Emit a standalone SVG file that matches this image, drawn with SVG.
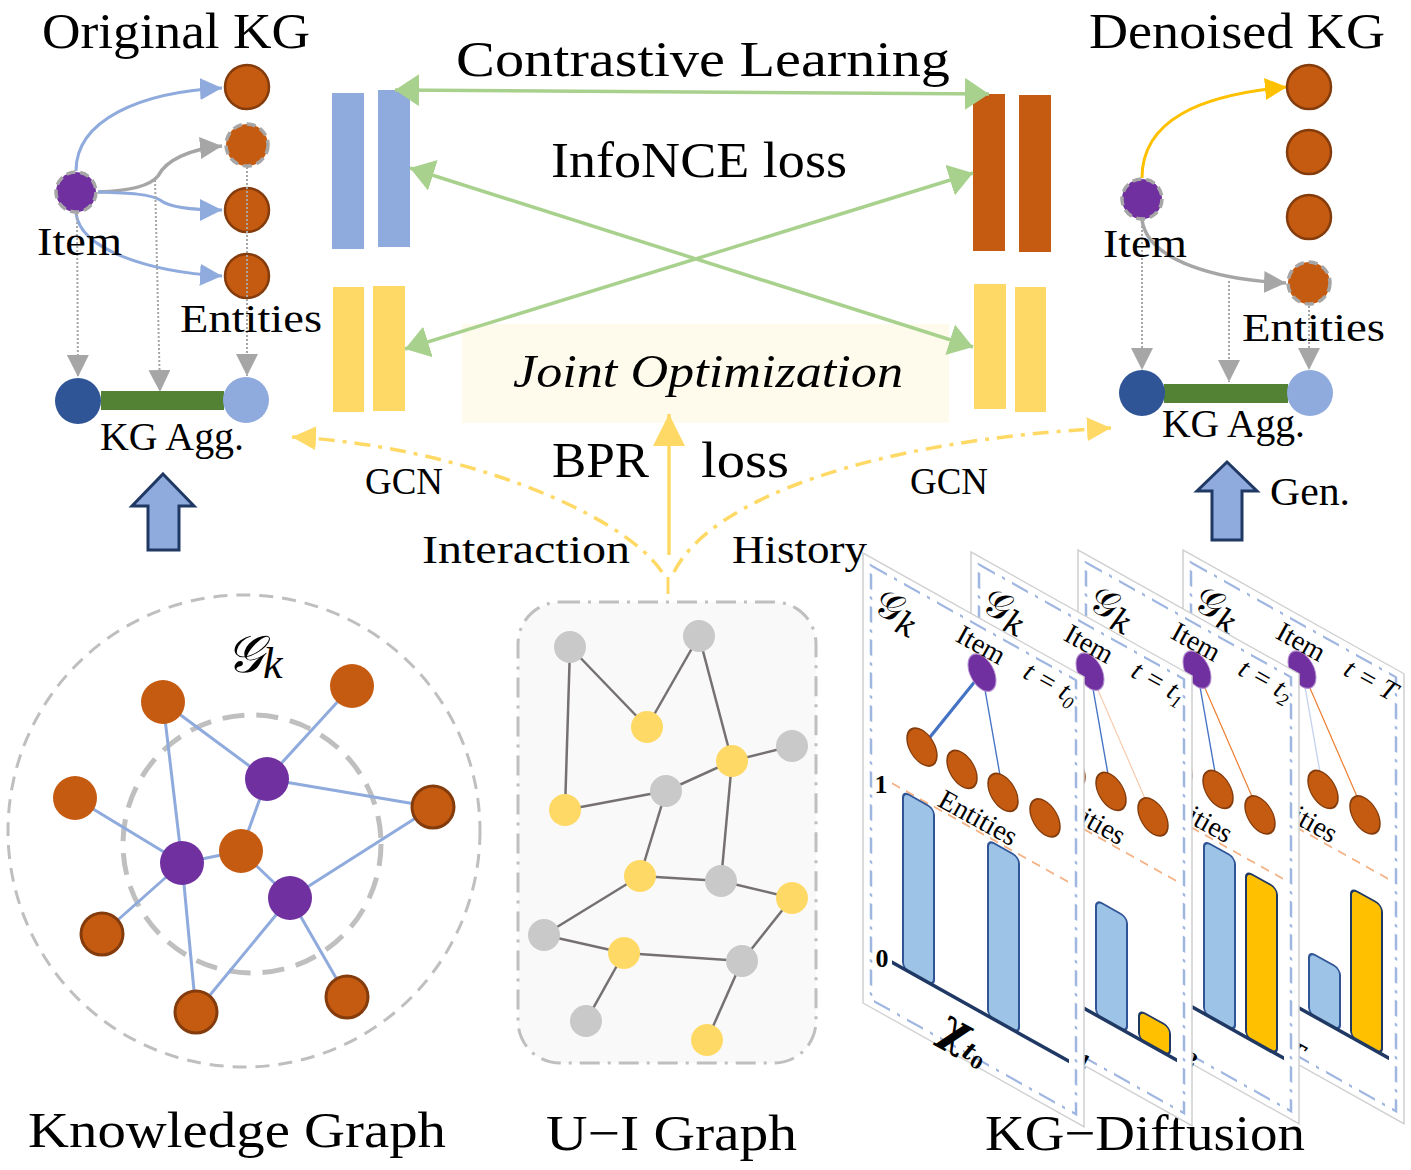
<svg xmlns="http://www.w3.org/2000/svg" width="1411" height="1170" viewBox="0 0 1411 1170">
<defs>
<style>
text { font-family: "Liberation Serif","DejaVu Serif",serif; fill:#000; }
.ent { fill:#c55a11; stroke:#843c0c; stroke-width:2.5; }
.entd { fill:#c55a11; stroke:#a6a6a6; stroke-width:3.5; stroke-dasharray:9 5; }
.itemd { fill:#7030a0; stroke:#a6a6a6; stroke-width:3.5; stroke-dasharray:9 5; }
.kgent { fill:#c55a11; }
.kgent2 { fill:#c55a11; stroke:#843c0c; stroke-width:3; }
.kgitem { fill:#7030a0; }
.kge { stroke:#8faadc; stroke-width:3; fill:none; }
.uie { stroke:#767171; stroke-width:2.5; fill:none; }
.ug { fill:#c9c9c9; }
.uy { fill:#ffd966; }
.dot { stroke:#a6a6a6; stroke-width:2; stroke-dasharray:2 2; fill:none; }
.green { stroke:#a9d18e; stroke-width:3.5; fill:none; }
.ydd { stroke:#ffd966; stroke-width:3.5; fill:none; stroke-dasharray:16 8 4 8; }
.bcurve { stroke:#8faadc; stroke-width:3; fill:none; }
.gcurve { stroke:#a6a6a6; stroke-width:3.5; fill:none; }
.pbg { fill:#fff; stroke:#cfcfcf; stroke-width:1.5; }
.pin { fill:none; stroke:#9fb6e0; stroke-width:2.5; stroke-dasharray:16 7 3 7; }
.pent { fill:#c55a11; stroke:#843c0c; stroke-width:1.5; }
.pitem { fill:#7030a0; stroke:#b48fd0; stroke-width:1; }
.pbar { fill:#9dc3e6; stroke:#2f5597; stroke-width:2; }
.pybar { fill:#ffc000; stroke:#203864; stroke-width:2; }
.paxis { stroke:#203864; stroke-width:4; }
.pdash { stroke:#f4b183; stroke-width:2; stroke-dasharray:8 6; }
.ptext { font-size:28px; }
.pgk { font-size:38px; font-family:"DejaVu Serif",serif; }
.pchi { font-size:46px; font-weight:bold; font-family:"DejaVu Serif",serif; }
.bigarrow { fill:#8faadc; stroke:#203864; stroke-width:3; }
</style>
<marker id="aBlue" markerUnits="userSpaceOnUse" viewBox="0 0 22 22" markerWidth="22" markerHeight="22" refX="22" refY="11" orient="auto"><path d="M0,0 L22,11 L0,22 z" fill="#8faadc"/></marker>
<marker id="aGray" markerUnits="userSpaceOnUse" viewBox="0 0 22 22" markerWidth="22" markerHeight="22" refX="22" refY="11" orient="auto"><path d="M0,0 L22,11 L0,22 z" fill="#a6a6a6"/></marker>
<marker id="aGold" markerUnits="userSpaceOnUse" viewBox="0 0 22 22" markerWidth="22" markerHeight="22" refX="22" refY="11" orient="auto"><path d="M0,0 L22,11 L0,22 z" fill="#ffc000"/></marker>
<marker id="aGreen" markerUnits="userSpaceOnUse" viewBox="0 0 24 32" markerWidth="24" markerHeight="32" refX="24" refY="16" orient="auto-start-reverse"><path d="M0,0 L24,16 L0,32 z" fill="#a9d18e"/></marker>
<marker id="aYel" markerUnits="userSpaceOnUse" viewBox="0 0 24 24" markerWidth="24" markerHeight="24" refX="24" refY="12" orient="auto"><path d="M0,0 L24,12 L0,24 z" fill="#ffd966"/></marker>
<marker id="aYelBig" markerUnits="userSpaceOnUse" viewBox="0 0 32 32" markerWidth="32" markerHeight="32" refX="32" refY="16" orient="auto"><path d="M0,0 L32,16 L0,32 z" fill="#ffd966"/></marker>
</defs>

<rect width="1411" height="1170" fill="#fff"/>

<!-- Joint optimization background -->
<g id="joint-opt">
<rect x="462" y="324" width="487" height="99" fill="#fefbec"/>
<text x="513" y="387" font-size="46" font-style="italic" textLength="390" lengthAdjust="spacingAndGlyphs">Joint Optimization</text>
</g>

<!-- Titles / labels -->
<g id="labels">
<text x="42" y="48" font-size="50" textLength="268" lengthAdjust="spacingAndGlyphs">Original KG</text>
<text x="456" y="76" font-size="50" textLength="494" lengthAdjust="spacingAndGlyphs">Contrastive Learning</text>
<text x="551" y="177" font-size="50" textLength="296" lengthAdjust="spacingAndGlyphs">InfoNCE loss</text>
<text x="1089" y="48" font-size="50" textLength="296" lengthAdjust="spacingAndGlyphs">Denoised KG</text>
<text x="365" y="494" font-size="38" textLength="78" lengthAdjust="spacingAndGlyphs">GCN</text>
<text x="910" y="494" font-size="38" textLength="78" lengthAdjust="spacingAndGlyphs">GCN</text>
<text x="552" y="477" font-size="50" textLength="97" lengthAdjust="spacingAndGlyphs">BPR</text>
<text x="701" y="477" font-size="50" textLength="88" lengthAdjust="spacingAndGlyphs">loss</text>
<text x="422" y="563" font-size="40" textLength="208" lengthAdjust="spacingAndGlyphs">Interaction</text>
<text x="732" y="563" font-size="40" textLength="135" lengthAdjust="spacingAndGlyphs">History</text>
<text x="28" y="1147" font-size="50" textLength="418" lengthAdjust="spacingAndGlyphs">Knowledge Graph</text>
<text x="546" y="1150" font-size="50" textLength="251" lengthAdjust="spacingAndGlyphs">U−I Graph</text>
<text x="985" y="1150" font-size="50" textLength="320" lengthAdjust="spacingAndGlyphs">KG−Diffusion</text>
</g>

<!-- Original KG -->
<g id="original-kg">
<path class="bcurve" d="M76,171 C76,120 140,92 222,88" marker-end="url(#aBlue)"/>
<path class="gcurve" d="M98,192 C130,191 150,186 158,176 C166,160 190,149 222,146" marker-end="url(#aGray)"/>
<path class="bcurve" d="M98,192 C130,193 150,194 160,200 C170,208 195,210 222,210" marker-end="url(#aBlue)"/>
<path class="bcurve" d="M76,213 C80,250 150,272 222,276" marker-end="url(#aBlue)"/>
<circle class="ent" cx="247" cy="87" r="22"/>
<circle class="entd" cx="247" cy="145" r="21"/>
<circle class="ent" cx="247" cy="210" r="22"/>
<circle class="ent" cx="247" cy="276" r="22"/>
<circle class="itemd" cx="76" cy="192" r="20"/>
<path class="dot" d="M77,214 L78,377" marker-end="url(#aGray)"/>
<path class="dot" d="M155,180 L160,392" marker-end="url(#aGray)"/>
<path class="dot" d="M247,167 L247,376" marker-end="url(#aGray)"/>
<rect x="101" y="391" width="123" height="19" fill="#548235"/>
<circle cx="78" cy="401" r="23" fill="#2f5597"/>
<circle cx="246" cy="400" r="23" fill="#8faadc"/>
<text x="37" y="255" font-size="40" textLength="85" lengthAdjust="spacingAndGlyphs">Item</text>
<text x="180" y="332" font-size="40" textLength="142" lengthAdjust="spacingAndGlyphs">Entities</text>
<text x="100" y="450" font-size="40" textLength="144" lengthAdjust="spacingAndGlyphs">KG Agg.</text>
<path class="bigarrow" d="M163,474 L194,506 L179,506 L179,550 L148,550 L148,506 L132,506 z"/>
</g>

<!-- Denoised KG -->
<g id="denoised-kg">
<path d="M1142,178 C1142,120 1200,95 1287,87" stroke="#ffc000" stroke-width="3" fill="none" marker-end="url(#aGold)"/>
<path class="gcurve" d="M1142,220 C1148,262 1220,280 1286,283" marker-end="url(#aGray)"/>
<circle class="ent" cx="1309" cy="87" r="22"/>
<circle class="ent" cx="1309" cy="152" r="22"/>
<circle class="ent" cx="1309" cy="217" r="22"/>
<circle class="entd" cx="1309" cy="283" r="21"/>
<circle class="itemd" cx="1142" cy="199" r="20"/>
<path class="dot" d="M1142,222 L1142,370" marker-end="url(#aGray)"/>
<path class="dot" d="M1229,281 L1229,382" marker-end="url(#aGray)"/>
<path class="dot" d="M1309,306 L1309,370" marker-end="url(#aGray)"/>
<rect x="1164" y="384" width="124" height="19" fill="#548235"/>
<circle cx="1142" cy="393" r="23" fill="#2f5597"/>
<circle cx="1310" cy="393" r="23" fill="#8faadc"/>
<text x="1103" y="257" font-size="40" textLength="84" lengthAdjust="spacingAndGlyphs">Item</text>
<text x="1242" y="341" font-size="40" textLength="143" lengthAdjust="spacingAndGlyphs">Entities</text>
<text x="1162" y="437" font-size="40" textLength="143" lengthAdjust="spacingAndGlyphs">KG Agg.</text>
<path class="bigarrow" d="M1227,462 L1257,491 L1242,491 L1242,540 L1212,540 L1212,491 L1197,491 z"/>
<text x="1270" y="505" font-size="40" textLength="80" lengthAdjust="spacingAndGlyphs">Gen.</text>
</g>

<!-- Embedding bars -->
<g id="emb-blue">
<rect x="332" y="93" width="32" height="156" fill="#8faadc"/>
<rect x="378" y="90" width="32" height="157" fill="#8faadc"/>
</g>
<g id="emb-yellow-left">
<rect x="333" y="287" width="31" height="125" fill="#ffd966"/>
<rect x="373" y="286" width="32" height="125" fill="#ffd966"/>
</g>
<g id="emb-orange">
<rect x="973" y="94" width="32" height="157" fill="#c55a11"/>
<rect x="1019" y="95" width="32" height="157" fill="#c55a11"/>
</g>
<g id="emb-yellow-right">
<rect x="974" y="284" width="32" height="125" fill="#ffd966"/>
<rect x="1015" y="287" width="31" height="125" fill="#ffd966"/>
</g>

<!-- Connectors -->
<g id="connectors">
<path class="green" d="M395,90 L989,94" marker-start="url(#aGreen)" marker-end="url(#aGreen)"/>
<path class="green" d="M410,168 L973,347" marker-start="url(#aGreen)" marker-end="url(#aGreen)"/>
<path class="green" d="M405,349 L973,173" marker-start="url(#aGreen)" marker-end="url(#aGreen)"/>
<path class="ydd" d="M662,572 C620,510 450,445 292,437" marker-end="url(#aYel)"/>
<path class="ydd" d="M674,572 C710,500 870,440 1111,428" marker-end="url(#aYel)"/>
<path d="M668,577 L668,594" stroke="#ffd966" stroke-width="3" fill="none"/>
<path d="M669,555 L669,414" stroke="#ffd966" stroke-width="3.5" fill="none" marker-end="url(#aYelBig)"/>
</g>

<!-- Knowledge graph -->
<g id="knowledge-graph">
<circle cx="244" cy="831" r="236" fill="none" stroke="#bfbfbf" stroke-width="3" stroke-dasharray="14 9"/>
<circle cx="252" cy="844" r="129" fill="none" stroke="#bfbfbf" stroke-width="5" stroke-dasharray="22 12"/>
<text x="226" y="672" font-size="52" font-family="DejaVu Serif, serif" font-style="italic">𝒢<tspan font-size="44" dy="6" font-family="Liberation Serif, serif">k</tspan></text>
<g class="kge">
<line x1="163" y1="702" x2="267" y2="779"/>
<line x1="352" y1="686" x2="267" y2="779"/>
<line x1="267" y1="779" x2="433" y2="807"/>
<line x1="267" y1="779" x2="241" y2="851"/>
<line x1="163" y1="702" x2="182" y2="863"/>
<line x1="75" y1="798" x2="182" y2="863"/>
<line x1="182" y1="863" x2="241" y2="851"/>
<line x1="182" y1="863" x2="102" y2="934"/>
<line x1="182" y1="863" x2="196" y2="1012"/>
<line x1="241" y1="851" x2="290" y2="898"/>
<line x1="290" y1="898" x2="433" y2="807"/>
<line x1="290" y1="898" x2="196" y2="1012"/>
<line x1="290" y1="898" x2="347" y2="997"/>
</g>
<circle class="kgent" cx="163" cy="702" r="22"/>
<circle class="kgent" cx="352" cy="686" r="22"/>
<circle class="kgent" cx="75" cy="798" r="22"/>
<circle class="kgent" cx="241" cy="851" r="22"/>
<circle class="kgent2" cx="433" cy="807" r="21"/>
<circle class="kgent2" cx="102" cy="934" r="21"/>
<circle class="kgent2" cx="196" cy="1012" r="21"/>
<circle class="kgent2" cx="347" cy="997" r="21"/>
<circle class="kgitem" cx="267" cy="779" r="22"/>
<circle class="kgitem" cx="182" cy="863" r="22"/>
<circle class="kgitem" cx="290" cy="898" r="22"/>
</g>

<!-- U-I graph -->
<g id="ui-graph">
<rect x="518" y="602" width="298" height="461" rx="42" fill="#f9f9f9" stroke="#bfbfbf" stroke-width="3" stroke-dasharray="20 8 3 8"/>
<g class="uie">
<line x1="570" y1="647" x2="647" y2="727"/>
<line x1="647" y1="727" x2="699" y2="636"/>
<line x1="699" y1="636" x2="732" y2="761"/>
<line x1="570" y1="647" x2="565" y2="810"/>
<line x1="565" y1="810" x2="666" y2="791"/>
<line x1="666" y1="791" x2="732" y2="761"/>
<line x1="732" y1="761" x2="792" y2="746"/>
<line x1="732" y1="761" x2="721" y2="881"/>
<line x1="666" y1="791" x2="640" y2="876"/>
<line x1="640" y1="876" x2="721" y2="881"/>
<line x1="721" y1="881" x2="792" y2="898"/>
<line x1="640" y1="876" x2="544" y2="935"/>
<line x1="544" y1="935" x2="624" y2="953"/>
<line x1="624" y1="953" x2="742" y2="961"/>
<line x1="742" y1="961" x2="792" y2="898"/>
<line x1="624" y1="953" x2="586" y2="1021"/>
<line x1="742" y1="961" x2="707" y2="1040"/>
</g>
<circle class="ug" cx="570" cy="647" r="16"/>
<circle class="ug" cx="699" cy="636" r="16"/>
<circle class="ug" cx="792" cy="746" r="16"/>
<circle class="ug" cx="666" cy="791" r="16"/>
<circle class="ug" cx="721" cy="881" r="16"/>
<circle class="ug" cx="544" cy="935" r="16"/>
<circle class="ug" cx="742" cy="961" r="16"/>
<circle class="ug" cx="586" cy="1021" r="16"/>
<circle class="uy" cx="647" cy="727" r="16"/>
<circle class="uy" cx="732" cy="761" r="16"/>
<circle class="uy" cx="565" cy="810" r="16"/>
<circle class="uy" cx="640" cy="876" r="16"/>
<circle class="uy" cx="792" cy="898" r="16"/>
<circle class="uy" cx="624" cy="953" r="16"/>
<circle class="uy" cx="707" cy="1040" r="16"/>
</g>

<!-- KG diffusion panels (back to front) -->
<g id="panel-T" transform="translate(320,-3)">
<g transform="matrix(1,0.56,0,1,863,553)">
<rect class="pbg" x="0" y="0" width="221" height="450"/>
<rect class="pin" x="8" y="8" width="205" height="434"/>
<line x1="119" y1="53" x2="140" y2="161" stroke="#c5d3ee" stroke-width="1.5"/>
<line x1="119" y1="53" x2="182" y2="163" stroke="#ed7d31" stroke-width="1.5"/>
<ellipse class="pitem" cx="119" cy="53" rx="14" ry="17"/>
<ellipse class="pent" cx="59" cy="161" rx="15" ry="17"/>
<ellipse class="pent" cx="99" cy="161" rx="15" ry="17"/>
<ellipse class="pent" cx="140" cy="161" rx="15" ry="17"/>
<ellipse class="pent" cx="182" cy="163" rx="15" ry="17"/>
<line class="pdash" x1="29" y1="214" x2="206" y2="214"/>
<rect class="pbar" x="126" y="331" width="31" height="62" rx="6"/>
<rect class="pybar" x="168" y="244" width="31" height="149" rx="6"/>
<line class="paxis" x1="29" y1="393" x2="206" y2="393"/>
</g>
<text class="pgk" transform="translate(872,612) rotate(25)">𝒢<tspan font-style="italic" font-size="32" dy="8">k</tspan></text>
<text class="ptext" transform="translate(981,645) rotate(29)" text-anchor="middle" y="9">Item</text>
<text class="ptext" transform="translate(1051,683) rotate(29)" text-anchor="middle" y="9" font-style="italic">t = T</text>
<text class="ptext" transform="translate(978,818) rotate(29)" text-anchor="middle" y="9">Entities</text>
<text class="pchi" transform="translate(965,1040) rotate(29)" text-anchor="middle" y="10">χ<tspan font-size="24" dy="6" font-style="italic">T</tspan></text>
</g>

<g id="panel-t2" transform="translate(215,-3)">
<g transform="matrix(1,0.56,0,1,863,553)">
<rect class="pbg" x="0" y="0" width="221" height="450"/>
<rect class="pin" x="8" y="8" width="205" height="434"/>
<line x1="119" y1="53" x2="140" y2="161" stroke="#4472c4" stroke-width="1.5"/>
<line x1="119" y1="53" x2="182" y2="163" stroke="#ed7d31" stroke-width="1.5"/>
<ellipse class="pitem" cx="119" cy="53" rx="14" ry="17"/>
<ellipse class="pent" cx="59" cy="161" rx="15" ry="17"/>
<ellipse class="pent" cx="99" cy="161" rx="15" ry="17"/>
<ellipse class="pent" cx="140" cy="161" rx="15" ry="17"/>
<ellipse class="pent" cx="182" cy="163" rx="15" ry="17"/>
<line class="pdash" x1="29" y1="214" x2="206" y2="214"/>
<rect class="pbar" x="126" y="220" width="31" height="173" rx="6"/>
<rect class="pybar" x="168" y="227" width="31" height="166" rx="6"/>
<line class="paxis" x1="29" y1="393" x2="206" y2="393"/>
</g>
<text class="pgk" transform="translate(872,612) rotate(25)">𝒢<tspan font-style="italic" font-size="32" dy="8">k</tspan></text>
<text class="ptext" transform="translate(981,645) rotate(29)" text-anchor="middle" y="9">Item</text>
<text class="ptext" transform="translate(1051,683) rotate(29)" text-anchor="middle" y="9" font-style="italic">t = t<tspan font-size="18" dy="6">2</tspan></text>
<text class="ptext" transform="translate(978,818) rotate(29)" text-anchor="middle" y="9">Entities</text>
<text class="pchi" transform="translate(965,1040) rotate(29)" text-anchor="middle" y="10">χ<tspan font-size="24" dy="6" font-style="italic">t</tspan><tspan font-size="17" dy="4">2</tspan></text>
</g>

<g id="panel-t1" transform="translate(108,-1)">
<g transform="matrix(1,0.56,0,1,863,553)">
<rect class="pbg" x="0" y="0" width="221" height="450"/>
<rect class="pin" x="8" y="8" width="205" height="434"/>
<line x1="119" y1="53" x2="140" y2="161" stroke="#4472c4" stroke-width="1.5"/>
<line x1="119" y1="53" x2="182" y2="163" stroke="#f8cbad" stroke-width="1.5"/>
<ellipse class="pitem" cx="119" cy="53" rx="14" ry="17"/>
<ellipse class="pent" cx="59" cy="161" rx="15" ry="17"/>
<ellipse class="pent" cx="99" cy="161" rx="15" ry="17"/>
<ellipse class="pent" cx="140" cy="161" rx="15" ry="17"/>
<ellipse class="pent" cx="182" cy="163" rx="15" ry="17"/>
<line class="pdash" x1="29" y1="214" x2="206" y2="214"/>
<rect class="pbar" x="125" y="278" width="31" height="115" rx="6"/>
<rect class="pybar" x="168" y="364" width="31" height="29" rx="6"/>
<line class="paxis" x1="29" y1="393" x2="206" y2="393"/>
</g>
<text class="pgk" transform="translate(872,612) rotate(25)">𝒢<tspan font-style="italic" font-size="32" dy="8">k</tspan></text>
<text class="ptext" transform="translate(981,645) rotate(29)" text-anchor="middle" y="9">Item</text>
<text class="ptext" transform="translate(1051,683) rotate(29)" text-anchor="middle" y="9" font-style="italic">t = t<tspan font-size="18" dy="6">1</tspan></text>
<text class="ptext" transform="translate(978,818) rotate(29)" text-anchor="middle" y="9">Entities</text>
<text class="pchi" transform="translate(965,1040) rotate(29)" text-anchor="middle" y="10">χ<tspan font-size="24" dy="6" font-style="italic">t</tspan><tspan font-size="17" dy="4">1</tspan></text>
</g>

<g id="panel-t0">
<g transform="matrix(1,0.56,0,1,863,553)">
<rect class="pbg" x="0" y="0" width="221" height="450"/>
<rect class="pin" x="8" y="8" width="205" height="434"/>
<line x1="119" y1="53" x2="59" y2="161" stroke="#4472c4" stroke-width="2.5"/>
<line x1="119" y1="53" x2="140" y2="161" stroke="#4472c4" stroke-width="1.5"/>
<ellipse class="pitem" cx="119" cy="53" rx="14" ry="17"/>
<ellipse class="pent" cx="59" cy="161" rx="15" ry="17"/>
<ellipse class="pent" cx="99" cy="161" rx="15" ry="17"/>
<ellipse class="pent" cx="140" cy="161" rx="15" ry="17"/>
<ellipse class="pent" cx="182" cy="163" rx="15" ry="17"/>
<line class="pdash" x1="29" y1="214" x2="206" y2="214"/>
<rect class="pbar" x="40" y="216" width="31" height="177" rx="6"/>
<rect class="pbar" x="125" y="217" width="31" height="176" rx="6"/>
<line class="paxis" x1="29" y1="393" x2="206" y2="393"/>
</g>
<text class="pgk" transform="translate(872,612) rotate(25)">𝒢<tspan font-style="italic" font-size="32" dy="8">k</tspan></text>
<text class="ptext" transform="translate(981,645) rotate(29)" text-anchor="middle" y="9">Item</text>
<text class="ptext" transform="translate(1051,683) rotate(29)" text-anchor="middle" y="9" font-style="italic">t = t<tspan font-size="18" dy="6">0</tspan></text>
<text class="ptext" transform="translate(978,818) rotate(29)" text-anchor="middle" y="9">Entities</text>
<text x="881" y="793" font-size="26" font-weight="bold" text-anchor="middle">1</text>
<text x="882" y="967" font-size="26" font-weight="bold" text-anchor="middle">0</text>
<text class="pchi" transform="translate(965,1040) rotate(29)" text-anchor="middle" y="10">χ<tspan font-size="24" dy="6" font-style="italic">t</tspan><tspan font-size="17" dy="4">0</tspan></text>
</g>
</svg>
